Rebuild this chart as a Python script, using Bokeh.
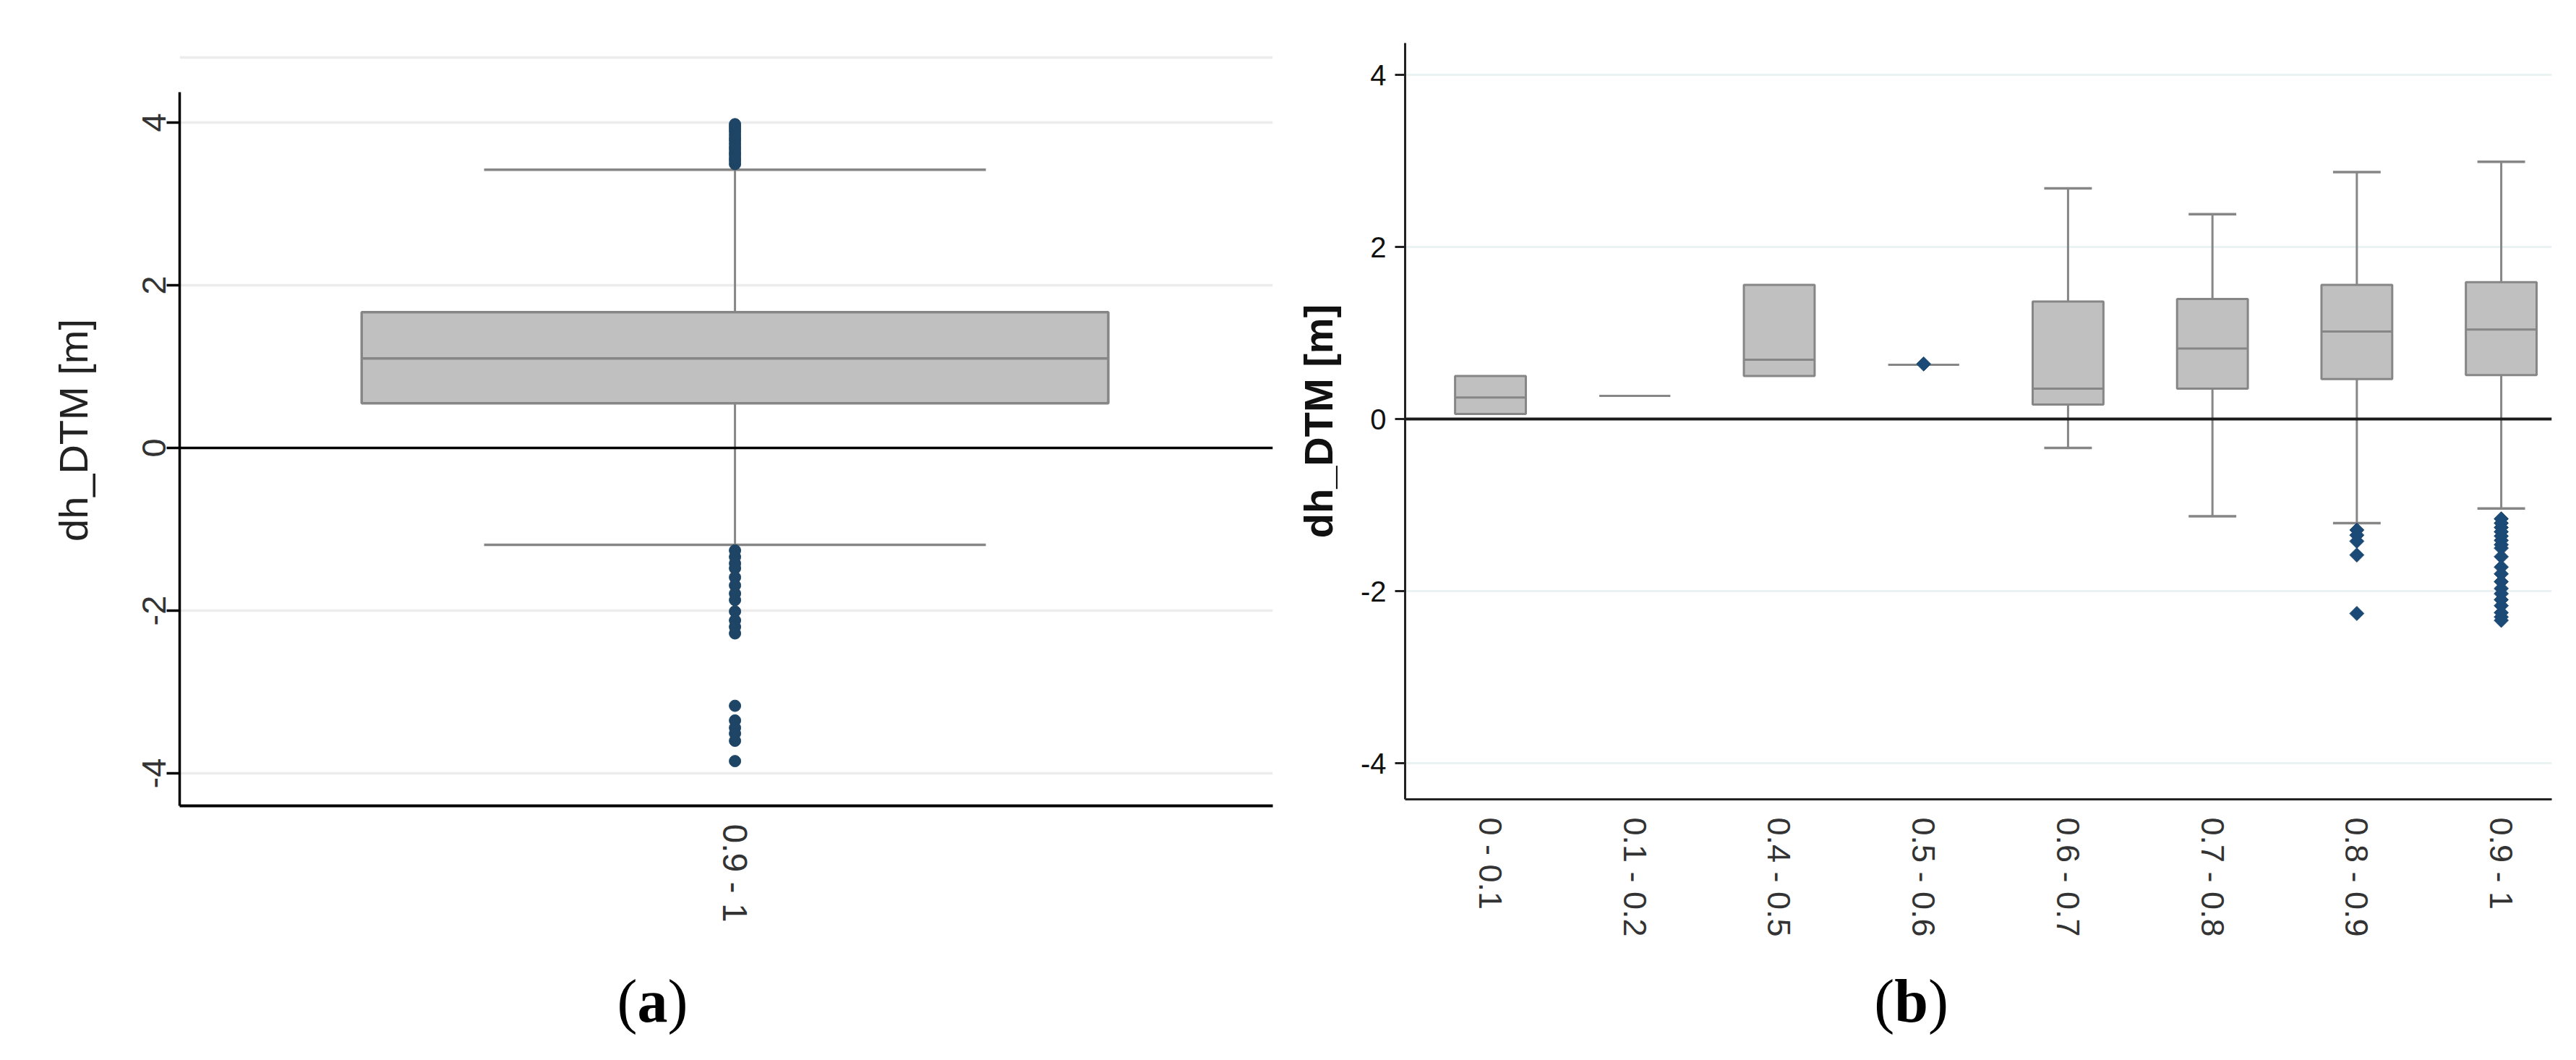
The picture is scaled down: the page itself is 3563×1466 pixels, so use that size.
import numpy as np
from bokeh.plotting import figure
from bokeh.models import Range1d, FixedTicker, Span
from bokeh.layouts import row, column
from bokeh.embed import file_html
from bokeh.resources import INLINE
from bokeh.core.properties import value

# ---------------- data: panel (a) ----------------
a_categories = ["0.9 - 1"]
a_q1 = [0.55]
a_median = [1.10]
a_q3 = [1.67]
a_lower = [-1.19]
a_upper = [3.42]
a_out_upper = [3.49, 3.53, 3.56, 3.60, 3.63, 3.67, 3.70, 3.74, 3.78, 3.81, 3.85, 3.89, 3.92, 3.95, 3.98]
a_out_lower = [-1.26, -1.34, -1.42, -1.48, -1.59, -1.69, -1.79, -1.87, -2.01, -2.12, -2.20, -2.28,
               -3.17, -3.35, -3.44, -3.51, -3.60, -3.85]
a_yticks = [-4, -2, 0, 2, 4]

# ---------------- data: panel (b) ----------------
b_categories = ["0 - 0.1", "0.1 - 0.2", "0.4 - 0.5", "0.5 - 0.6", "0.6 - 0.7", "0.7 - 0.8", "0.8 - 0.9", "0.9 - 1"]
b_q1 = [0.06, 0.27, 0.50, 0.63, 0.168, 0.353, 0.465, 0.51]
b_median = [0.25, 0.27, 0.69, 0.63, 0.353, 0.82, 1.017, 1.04]
b_q3 = [0.50, 0.27, 1.56, 0.63, 1.365, 1.395, 1.56, 1.59]
b_lower = [0.06, 0.27, 0.50, 0.63, -0.335, -1.13, -1.21, -1.04]
b_upper = [0.50, 0.27, 1.56, 0.63, 2.68, 2.38, 2.87, 2.99]
b_out_cat = (["0.5 - 0.6"]
             + ["0.8 - 0.9"] * 5
             + ["0.9 - 1"] * 19)
b_out_val = ([0.64]
             + [-1.29, -1.35, -1.42, -1.58, -2.26]
             + [-1.16, -1.21, -1.26, -1.31, -1.36, -1.41, -1.46, -1.50, -1.60, -1.72,
                -1.80, -1.89, -1.97, -2.03, -2.10, -2.17, -2.25, -2.30, -2.34])
b_yticks = [-4, -2, 0, 2, 4]

captions = ["a", "b"]

BOX_FILL = "#c0c0c0"
BOX_LINE = "#868686"
SANS = "Liberation Sans"
SERIF = "Liberation Serif"
PLOT_H = 1300
CAP_H = 166


def tick_text(t):
    return ("-" if t < 0 else "") + str(abs(t))


def style_common(p):
    p.background_fill_color = "white"
    p.border_fill_color = "white"
    p.outline_line_color = None
    p.xgrid.grid_line_color = None
    p.xaxis.major_tick_line_color = None
    p.xaxis.major_tick_out = 0
    p.xaxis.major_tick_in = 0
    p.xaxis.minor_tick_line_color = None
    p.yaxis.minor_tick_line_color = None
    p.yaxis.major_tick_in = 0
    p.xaxis.major_label_orientation = "vertical"


def caption_fig(width, xc, letter, half):
    c = figure(frame_width=width, frame_height=CAP_H, x_range=Range1d(0, width), y_range=Range1d(0, CAP_H),
               output_backend="svg", toolbar_location=None, min_border=0, title=None,
               x_axis_location=None, y_axis_location=None)
    c.frame_align = False
    c.grid.grid_line_color = None
    c.outline_line_color = None
    c.background_fill_color = "white"
    c.border_fill_color = "white"
    kw = dict(text_font=value(SERIF), text_font_size="84px", text_color="black", text_baseline="alphabetic")
    c.text(x=[xc - half], y=[82], text=["("], text_align="right", **kw)
    c.text(x=[xc], y=[82], text=[letter], text_align="center", text_font_style="bold", **kw)
    c.text(x=[xc + half], y=[82], text=[")"], text_align="left", **kw)
    return c


# ================= panel (a) =================
pa = figure(width=1780, height=PLOT_H, x_range=Range1d(-1.016, 0.984), y_range=Range1d(-4.4, 4.836),
            output_backend="svg", toolbar_location=None,
            min_border_left=248, min_border_right=20, min_border_top=75, min_border_bottom=186)
pa.frame_align = False
style_common(pa)
ax = np.arange(len(a_categories), dtype=float)
aw, acap = 1.366, 0.918

pa.segment(x0=ax, y0=a_q3, x1=ax, y1=a_upper, line_color=BOX_LINE, line_width=3)
pa.segment(x0=ax, y0=a_lower, x1=ax, y1=a_q1, line_color=BOX_LINE, line_width=3)
pa.segment(x0=ax - acap / 2, y0=a_upper, x1=ax + acap / 2, y1=a_upper, line_color=BOX_LINE, line_width=3.5)
pa.segment(x0=ax - acap / 2, y0=a_lower, x1=ax + acap / 2, y1=a_lower, line_color=BOX_LINE, line_width=3.5)
pa.vbar(x=ax, width=aw, bottom=a_q1, top=a_q3, fill_color=BOX_FILL, line_color=BOX_LINE, line_width=3.5)
pa.segment(x0=ax - aw / 2, y0=a_median, x1=ax + aw / 2, y1=a_median, line_color=BOX_LINE, line_width=3.5)
a_out = a_out_upper + a_out_lower
pa.scatter(x=[ax[0]] * len(a_out), y=a_out, marker="circle", size=16,
           fill_color="#1f4566", line_color="#1f4566")
pa.add_layout(Span(location=0, dimension="width", line_color="black", line_width=3.5))

pa.yaxis.ticker = FixedTicker(ticks=a_yticks)
pa.yaxis.major_label_overrides = {t: tick_text(t) for t in a_yticks}
pa.yaxis.bounds = (-4.4, 4.37)
pa.yaxis.axis_line_color = "black"
pa.yaxis.axis_line_width = 3.5
pa.yaxis.major_tick_out = 18
pa.yaxis.major_tick_line_width = 3.5
pa.yaxis.major_tick_line_color = "black"
pa.yaxis.major_label_orientation = "vertical"
pa.yaxis.major_label_standoff = 1
pa.yaxis.major_label_text_font = SANS
pa.yaxis.major_label_text_font_size = "47px"
pa.yaxis.major_label_text_color = "#333333"
pa.yaxis.axis_label = "dh_DTM [m]"
pa.yaxis.axis_label_text_font = SANS
pa.yaxis.axis_label_text_font_size = "56px"
pa.yaxis.axis_label_text_font_style = "normal"
pa.yaxis.axis_label_text_color = "#222222"
pa.yaxis.axis_label_standoff = 62
pa.ygrid.ticker = FixedTicker(ticks=[-4, -2, 2, 4, 4.8])
pa.ygrid.grid_line_color = "#ececec"
pa.ygrid.grid_line_width = 3.5

pa.xaxis.ticker = FixedTicker(ticks=list(ax))
pa.xaxis.major_label_overrides = {float(i): c for i, c in enumerate(a_categories)}
pa.xaxis.axis_line_color = "black"
pa.xaxis.axis_line_width = 4
pa.xaxis.major_label_standoff = 25
pa.xaxis.major_label_text_font = SANS
pa.xaxis.major_label_text_font_size = "48px"
pa.xaxis.major_label_text_color = "#333333"

# ================= panel (b) =================
pb = figure(width=1783, height=PLOT_H, x_range=Range1d(-0.591, 7.35), y_range=Range1d(-4.42, 4.370),
            output_backend="svg", toolbar_location=None,
            min_border_left=163, min_border_right=34, min_border_top=59, min_border_bottom=195)
pb.frame_align = False
style_common(pb)
bx = np.arange(len(b_categories), dtype=float)
bw, bcap = 0.49, 0.33
lo = np.array(b_lower)
hi = np.array(b_upper)
q1 = np.array(b_q1)
q3 = np.array(b_q3)
has_hi = hi > q3
has_lo = lo < q1

pb.segment(x0=bx[has_hi], y0=q3[has_hi], x1=bx[has_hi], y1=hi[has_hi], line_color=BOX_LINE, line_width=3)
pb.segment(x0=bx[has_lo], y0=lo[has_lo], x1=bx[has_lo], y1=q1[has_lo], line_color=BOX_LINE, line_width=3)
pb.segment(x0=bx[has_hi] - bcap / 2, y0=hi[has_hi], x1=bx[has_hi] + bcap / 2, y1=hi[has_hi],
           line_color=BOX_LINE, line_width=3.5)
pb.segment(x0=bx[has_lo] - bcap / 2, y0=lo[has_lo], x1=bx[has_lo] + bcap / 2, y1=lo[has_lo],
           line_color=BOX_LINE, line_width=3.5)
pb.vbar(x=bx, width=bw, bottom=b_q1, top=b_q3, fill_color=BOX_FILL, line_color=BOX_LINE, line_width=3)
pb.segment(x0=bx - bw / 2, y0=b_median, x1=bx + bw / 2, y1=b_median, line_color=BOX_LINE, line_width=3)
out_x = [b_categories.index(c) for c in b_out_cat]
pb.scatter(x=out_x, y=b_out_val, marker="square", angle=np.pi / 4, size=14,
           fill_color="#1a4a75", line_color="#1a4a75")
pb.add_layout(Span(location=0, dimension="width", line_color="#1a1a1a", line_width=4))

pb.yaxis.ticker = FixedTicker(ticks=b_yticks)
pb.yaxis.major_label_overrides = {t: tick_text(t) for t in b_yticks}
pb.yaxis.axis_line_color = "#222222"
pb.yaxis.axis_line_width = 3
pb.yaxis.major_tick_out = 14
pb.yaxis.major_tick_line_width = 3
pb.yaxis.major_tick_line_color = "#222222"
pb.yaxis.major_label_standoff = 12
pb.yaxis.major_label_text_font = SANS
pb.yaxis.major_label_text_font_size = "40px"
pb.yaxis.major_label_text_color = "#111111"
pb.yaxis.axis_label = "dh_DTM [m]"
pb.yaxis.axis_label_text_font = SANS
pb.yaxis.axis_label_text_font_size = "56px"
pb.yaxis.axis_label_text_font_style = "bold"
pb.yaxis.axis_label_text_color = "#111111"
pb.yaxis.axis_label_standoff = 24
pb.ygrid.ticker = FixedTicker(ticks=[-4, -2, 2, 4])
pb.ygrid.grid_line_color = "#eaf2f3"
pb.ygrid.grid_line_width = 3

pb.xaxis.ticker = FixedTicker(ticks=list(bx))
pb.xaxis.major_label_overrides = {float(i): c for i, c in enumerate(b_categories)}
pb.xaxis.axis_line_color = "#222222"
pb.xaxis.axis_line_width = 3
pb.xaxis.major_label_standoff = 25
pb.xaxis.major_label_text_font = SANS
pb.xaxis.major_label_text_font_size = "45px"
pb.xaxis.major_label_text_color = "#333333"

ca = caption_fig(1780, 902, captions[0], 21)
cb = caption_fig(1783, 863, captions[1], 23.4)

layout = row(column(pa, ca, spacing=0), column(pb, cb, spacing=0), spacing=0)
open("out.html", "w").write(file_html(layout, INLINE))
